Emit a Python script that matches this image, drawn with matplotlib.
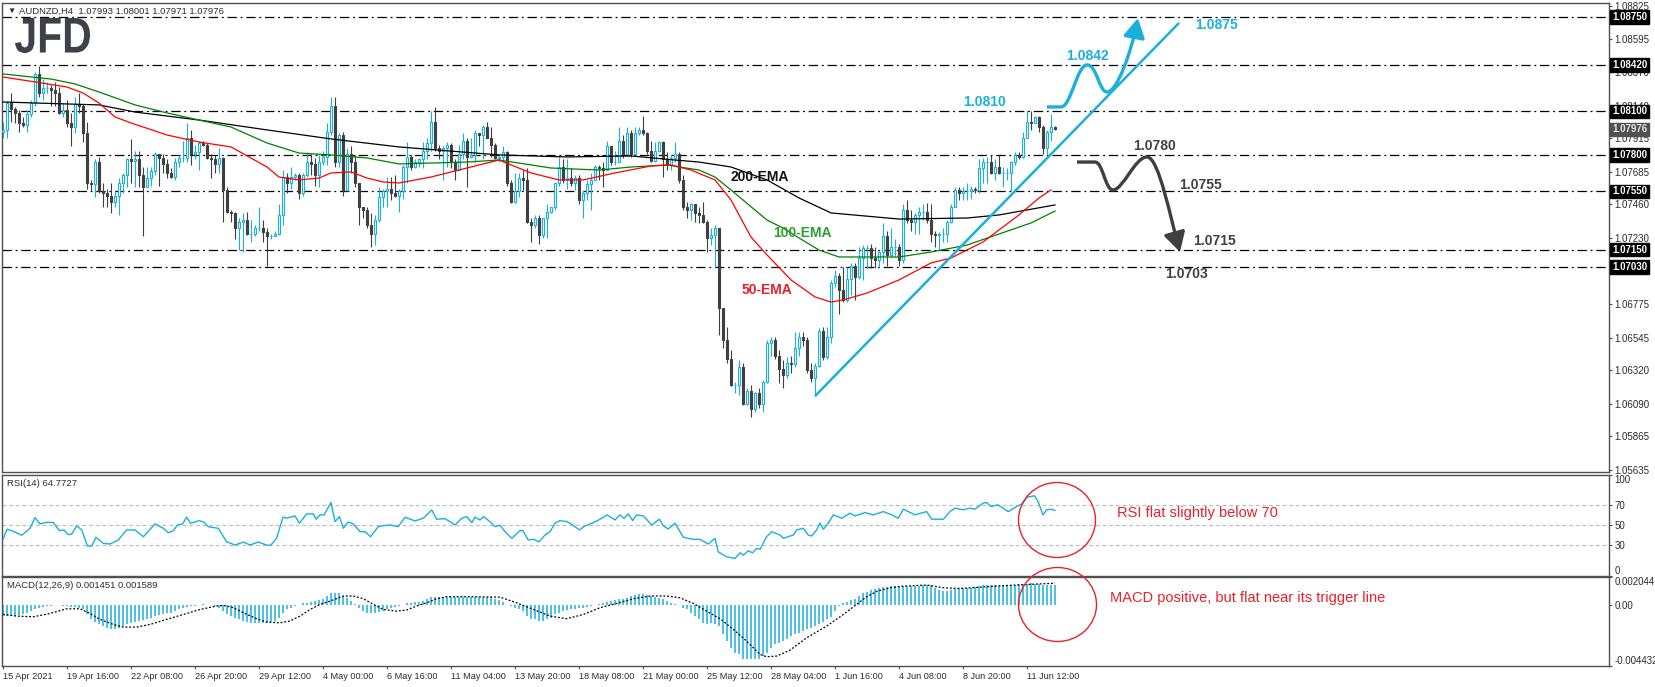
"""
AUDNZD H4 chart with EMAs, RSI and MACD panels (MT4 style).
"""
import numpy as np
import matplotlib
matplotlib.use('Agg')
import matplotlib.pyplot as plt
from matplotlib.patches import Ellipse, FancyArrowPatch, PathPatch
from matplotlib.path import Path
from matplotlib.textpath import TextPath
from matplotlib.font_manager import FontProperties
from matplotlib.transforms import Affine2D

plt.rcParams['font.family'] = ['Liberation Sans', 'DejaVu Sans']

# ---------------- data ----------------
OPEN_FIRST = 1.0796
CLOSE = [
    1.0797, 1.0816, 1.0812, 1.0809, 1.0802, 1.0801, 1.0808, 1.0816, 1.0836, 1.0823,
    1.0826, 1.0826, 1.0825, 1.0823, 1.0809, 1.0811, 1.0802, 1.0799, 1.0815, 1.0814,
    1.0795, 1.0761, 1.0760, 1.0775, 1.0755, 1.0754, 1.0752, 1.0748, 1.0752, 1.0761,
    1.0766, 1.0777, 1.0776, 1.0777, 1.0766, 1.0758, 1.0764, 1.0769, 1.0781, 1.0778,
    1.0774, 1.0768, 1.0765, 1.0775, 1.0778, 1.0778, 1.0792, 1.0781, 1.0782, 1.0788,
    1.0787, 1.0778, 1.0777, 1.0774, 1.0778, 1.0756, 1.0741, 1.0740, 1.0730, 1.0734,
    1.0735, 1.0726, 1.0726, 1.0730, 1.0730, 1.0727, 1.0724, 1.0724, 1.0726, 1.0739,
    1.0765, 1.0761, 1.0765, 1.0766, 1.0754, 1.0766, 1.0775, 1.0774, 1.0766, 1.0775,
    1.0779, 1.0796, 1.0814, 1.0775, 1.0794, 1.0756, 1.0781, 1.0775, 1.0761, 1.0744,
    1.0742, 1.0732, 1.0726, 1.0735, 1.0751, 1.0755, 1.0757, 1.0754, 1.0752, 1.0755,
    1.0772, 1.0779, 1.0772, 1.0775, 1.0777, 1.0783, 1.0788, 1.0803, 1.0785, 1.0783,
    1.0785, 1.0787, 1.0775, 1.0770, 1.0781, 1.0790, 1.0779, 1.0780, 1.0795, 1.0794,
    1.0799, 1.0792, 1.0787, 1.0778, 1.0779, 1.0782, 1.0761, 1.0748, 1.0755, 1.0764,
    1.0763, 1.0734, 1.0732, 1.0737, 1.0725, 1.0737, 1.0741, 1.0744, 1.0761, 1.0772,
    1.0763, 1.0764, 1.0761, 1.0764, 1.0749, 1.0754, 1.0760, 1.0763, 1.0772, 1.0771,
    1.0770, 1.0786, 1.0775, 1.0775, 1.0790, 1.0781, 1.0795, 1.0781, 1.0795, 1.0797,
    1.0795, 1.0783, 1.0776, 1.0783, 1.0789, 1.0777, 1.0773, 1.0778, 1.0781, 1.0763,
    1.0744, 1.0742, 1.0746, 1.0740, 1.0739, 1.0734, 1.0723, 1.0725, 1.0730, 1.0675,
    1.0653, 1.0640, 1.0622, 1.0622, 1.0634, 1.0609, 1.0618, 1.0605, 1.0616, 1.0609,
    1.0624, 1.0651, 1.0653, 1.0642, 1.0633, 1.0629, 1.0637, 1.0636, 1.0647, 1.0655,
    1.0653, 1.0632, 1.0627, 1.0635, 1.0659, 1.0641, 1.0655, 1.0692, 1.0697, 1.0687,
    1.0680, 1.0695, 1.0704, 1.0696, 1.0709, 1.0716, 1.0716, 1.0709, 1.0708, 1.0713,
    1.0724, 1.0711, 1.0717, 1.0717, 1.0708, 1.0742, 1.0735, 1.0734, 1.0739, 1.0741,
    1.0741, 1.0735, 1.0726, 1.0725, 1.0726, 1.0726, 1.0734, 1.0744, 1.0756, 1.0754,
    1.0755, 1.0755, 1.0757, 1.0756, 1.0771, 1.0775, 1.0775, 1.0768, 1.0772, 1.0768,
    1.0768, 1.0768, 1.0775, 1.0780, 1.0779, 1.0792, 1.0803, 1.0802, 1.0806, 1.0799,
    1.0785, 1.0796, 1.0799, 1.07976]
HIGH = [
    1.0803, 1.0817, 1.0823, 1.0813, 1.0811, 1.0806, 1.0811, 1.0818, 1.0837, 1.0841,
    1.0832, 1.0830, 1.0828, 1.0830, 1.0827, 1.0816, 1.0818, 1.0809, 1.0820, 1.0823,
    1.0815, 1.0803, 1.0763, 1.0777, 1.0779, 1.0761, 1.0757, 1.0761, 1.0755, 1.0764,
    1.0768, 1.0778, 1.0791, 1.0783, 1.0783, 1.0772, 1.0772, 1.0772, 1.0782, 1.0781,
    1.0781, 1.0777, 1.0771, 1.0778, 1.0780, 1.0790, 1.0802, 1.0797, 1.0787, 1.0790,
    1.0790, 1.0788, 1.0781, 1.0780, 1.0785, 1.0779, 1.0758, 1.0742, 1.0741, 1.0737,
    1.0740, 1.0741, 1.0735, 1.0732, 1.0744, 1.0735, 1.0730, 1.0726, 1.0728, 1.0746,
    1.0770, 1.0768, 1.0772, 1.0768, 1.0768, 1.0768, 1.0782, 1.0781, 1.0778, 1.0780,
    1.0783, 1.0802, 1.0820, 1.0820, 1.0795, 1.0796, 1.0785, 1.0786, 1.0780, 1.0761,
    1.0744, 1.0744, 1.0740, 1.0739, 1.0758, 1.0757, 1.0765, 1.0765, 1.0766, 1.0757,
    1.0773, 1.0789, 1.0780, 1.0777, 1.0778, 1.0789, 1.0792, 1.0810, 1.0813, 1.0787,
    1.0786, 1.0789, 1.0788, 1.0777, 1.0787, 1.0795, 1.0792, 1.0792, 1.0797, 1.0795,
    1.0801, 1.0803, 1.0799, 1.0788, 1.0780, 1.0786, 1.0783, 1.0763, 1.0768, 1.0768,
    1.0770, 1.0771, 1.0737, 1.0739, 1.0739, 1.0737, 1.0746, 1.0744, 1.0761, 1.0779,
    1.0777, 1.0777, 1.0771, 1.0766, 1.0766, 1.0756, 1.0763, 1.0768, 1.0773, 1.0773,
    1.0775, 1.0790, 1.0786, 1.0783, 1.0799, 1.0794, 1.0799, 1.0797, 1.0799, 1.0799,
    1.0807, 1.0796, 1.0790, 1.0789, 1.0790, 1.0790, 1.0782, 1.0781, 1.0789, 1.0782,
    1.0766, 1.0748, 1.0747, 1.0746, 1.0744, 1.0748, 1.0735, 1.0730, 1.0732, 1.0730,
    1.0675, 1.0662, 1.0646, 1.0624, 1.0639, 1.0637, 1.0620, 1.0622, 1.0617, 1.0620,
    1.0625, 1.0653, 1.0655, 1.0655, 1.0646, 1.0639, 1.0641, 1.0642, 1.0658, 1.0658,
    1.0658, 1.0655, 1.0637, 1.0637, 1.0661, 1.0662, 1.0662, 1.0694, 1.0701, 1.0699,
    1.0703, 1.0703, 1.0706, 1.0706, 1.0717, 1.0718, 1.0718, 1.0719, 1.0717, 1.0715,
    1.0733, 1.0728, 1.0730, 1.0722, 1.0719, 1.0746, 1.0749, 1.0742, 1.0740, 1.0744,
    1.0746, 1.0747, 1.0746, 1.0728, 1.0727, 1.0730, 1.0735, 1.0746, 1.0758, 1.0758,
    1.0758, 1.0761, 1.0759, 1.0758, 1.0777, 1.0778, 1.0779, 1.0780, 1.0777, 1.0780,
    1.0772, 1.0771, 1.0776, 1.0782, 1.0782, 1.0796, 1.0811, 1.0810, 1.0807, 1.0807,
    1.0801, 1.0797, 1.0808, 1.08001]
LOW = [
    1.0792, 1.0792, 1.0803, 1.0802, 1.0796, 1.0799, 1.0796, 1.0806, 1.0814, 1.0820,
    1.0818, 1.0823, 1.0814, 1.0814, 1.0808, 1.0806, 1.0799, 1.0786, 1.0795, 1.0809,
    1.0789, 1.0757, 1.0755, 1.0751, 1.0754, 1.0744, 1.0744, 1.0740, 1.0744, 1.0739,
    1.0754, 1.0758, 1.0761, 1.0758, 1.0758, 1.0724, 1.0758, 1.0759, 1.0766, 1.0759,
    1.0768, 1.0764, 1.0764, 1.0763, 1.0772, 1.0775, 1.0775, 1.0773, 1.0777, 1.0770,
    1.0786, 1.0777, 1.0764, 1.0768, 1.0768, 1.0734, 1.0740, 1.0734, 1.0722, 1.0715,
    1.0713, 1.0725, 1.0720, 1.0724, 1.0728, 1.0720, 1.0704, 1.0722, 1.0724, 1.0725,
    1.0732, 1.0754, 1.0757, 1.0763, 1.0750, 1.0752, 1.0765, 1.0766, 1.0759, 1.0758,
    1.0773, 1.0773, 1.0794, 1.0772, 1.0772, 1.0752, 1.0755, 1.0768, 1.0758, 1.0732,
    1.0737, 1.0730, 1.0717, 1.0718, 1.0734, 1.0744, 1.0744, 1.0749, 1.0751, 1.0741,
    1.0750, 1.0761, 1.0770, 1.0771, 1.0772, 1.0771, 1.0777, 1.0783, 1.0783, 1.0777,
    1.0763, 1.0772, 1.0771, 1.0763, 1.0770, 1.0777, 1.0758, 1.0778, 1.0775, 1.0786,
    1.0777, 1.0792, 1.0779, 1.0777, 1.0775, 1.0775, 1.0759, 1.0747, 1.0747, 1.0751,
    1.0756, 1.0733, 1.0720, 1.0730, 1.0719, 1.0723, 1.0723, 1.0740, 1.0742, 1.0759,
    1.0761, 1.0757, 1.0759, 1.0756, 1.0746, 1.0737, 1.0749, 1.0742, 1.0763, 1.0763,
    1.0758, 1.0770, 1.0773, 1.0773, 1.0775, 1.0778, 1.0780, 1.0779, 1.0780, 1.0794,
    1.0794, 1.0781, 1.0775, 1.0775, 1.0782, 1.0765, 1.0770, 1.0770, 1.0775, 1.0761,
    1.0742, 1.0737, 1.0735, 1.0734, 1.0733, 1.0733, 1.0713, 1.0718, 1.0703, 1.0656,
    1.0647, 1.0637, 1.0621, 1.0616, 1.0615, 1.0608, 1.0608, 1.0600, 1.0603, 1.0606,
    1.0603, 1.0623, 1.0642, 1.0640, 1.0623, 1.0620, 1.0627, 1.0630, 1.0634, 1.0642,
    1.0649, 1.0630, 1.0624, 1.0614, 1.0634, 1.0639, 1.0640, 1.0651, 1.0689, 1.0671,
    1.0679, 1.0679, 1.0684, 1.0680, 1.0695, 1.0694, 1.0702, 1.0702, 1.0702, 1.0703,
    1.0706, 1.0704, 1.0709, 1.0710, 1.0704, 1.0706, 1.0733, 1.0728, 1.0726, 1.0726,
    1.0735, 1.0733, 1.0720, 1.0717, 1.0715, 1.0720, 1.0720, 1.0733, 1.0744, 1.0749,
    1.0749, 1.0749, 1.0750, 1.0754, 1.0754, 1.0761, 1.0761, 1.0767, 1.0763, 1.0767,
    1.0758, 1.0763, 1.0755, 1.0773, 1.0777, 1.0778, 1.0792, 1.0797, 1.0802, 1.0796,
    1.0781, 1.0781, 1.0790, 1.07971]

EMA200_IDX = [0, 24, 33, 49, 66, 82, 99, 124, 141, 157, 168, 174, 182, 191, 199, 207, 224, 241, 249, 263]
EMA200_VAL = [1.08165, 1.08145, 1.08096, 1.08041, 1.07973, 1.07911, 1.07856, 1.07801, 1.07787, 1.07794,
              1.07766, 1.07752, 1.07718, 1.07629, 1.07505, 1.07402, 1.07360, 1.07367, 1.07388, 1.07457]
EMA100_IDX = [0, 12, 18, 24, 33, 41, 49, 57, 66, 74, 82, 91, 99, 116, 124, 137, 149, 157, 166, 174,
              178, 182, 191, 195, 199, 204, 209, 224, 232, 241, 249, 257, 263]
EMA100_VAL = [1.08358, 1.08323, 1.08289, 1.08234, 1.08145, 1.08090, 1.08041, 1.07993, 1.07883, 1.07814,
              1.07801, 1.07780, 1.07739, 1.07752, 1.07766, 1.07711, 1.07697, 1.07718, 1.07732, 1.07697,
              1.07649, 1.07560, 1.07353, 1.07298, 1.07230, 1.07147, 1.07099, 1.07099, 1.07133, 1.07181,
              1.07257, 1.07333, 1.07415]
EMA50_IDX = [0, 8, 16, 20, 24, 28, 32, 41, 49, 57, 66, 69, 74, 79, 82, 87, 91, 95, 99, 107,
             116, 124, 132, 139, 145, 153, 162, 167, 172, 178, 182, 187, 191, 197, 203, 207, 210, 216,
             224, 232, 237, 245, 249, 254, 259, 262]
EMA50_VAL = [1.08337, 1.08303, 1.08268, 1.08227, 1.08158, 1.08062, 1.08021, 1.07938, 1.07890, 1.07856,
             1.07718, 1.07649, 1.07629, 1.07642, 1.07677, 1.07684, 1.07642, 1.07615, 1.07608, 1.07649,
             1.07711, 1.07766, 1.07677, 1.07629, 1.07629, 1.07677, 1.07725, 1.07732, 1.07697, 1.07629,
             1.07491, 1.07236, 1.07113, 1.06941, 1.06824, 1.06789, 1.06803, 1.06851, 1.06941, 1.07058,
             1.07092, 1.07202, 1.07285, 1.07388, 1.07505, 1.07560]

RSI_IDX = [0, 1, 2.6, 4.7, 6.75, 8, 9.25, 10.9, 12.6, 14.1, 15.25, 16.3, 17.2, 18.4, 19.7, 21.1, 22.2,
           23.25, 25.1, 26.75, 28.8, 30.9, 33, 35.1, 38, 40.1, 41.3, 42.6, 43.6, 44.9, 45.9, 46.9, 49.1,
           50.25, 51.3, 53.8, 55.9, 58, 60.1, 61.75, 63.8, 65.9, 66.9, 68.4, 70, 70.9, 73, 74.1, 75.9,
           77.6, 78.25, 79.25, 80.25, 82, 83, 84.1, 85.1, 86.3, 87.6, 89.25, 90.5, 91.9, 93.8, 95.1,
           96.75, 98.8, 100.5, 103, 105.1, 107.2, 108.4, 110.5, 113, 114.7, 115.9, 117.2, 118, 119.25,
           120.1, 121.75, 123, 124.25, 125.5, 127.2, 129.25, 130, 131.3, 132.6, 134, 135.5, 136.75,
           138, 139.25, 141, 142.4, 144.1, 145.5, 147.6, 149.25, 151, 153, 154.25, 155.25, 156.3,
           157.4, 158.4, 160.1, 162.2, 164.1, 165.1, 166.3, 168, 170.1, 172.6, 174.25, 176.3, 178,
           178.8, 180.9, 183, 184.25, 185.1, 186.3, 187.4, 188.4, 189.25, 190.9, 192.2, 194.25, 195.1,
           197.6, 198.4, 200.1, 201.3, 202.2, 203.4, 204.25, 205.1, 206.3, 207.6, 209.7, 211.75, 213,
           215.5, 217.6, 220.1, 222.2, 223.8, 225.1, 228, 230.9, 232.2, 235.1, 236.75, 238, 240,
           241.75, 243, 245, 245.9, 247, 248.75, 251.3, 253.4, 255, 256, 257.9, 258.75, 260, 260.9,
           262.1, 263]
RSI_VAL = [36, 46, 44, 40, 47, 57.6, 51.3, 53, 52.6, 44.6, 45.3, 40.6, 41.3, 49.3, 45.3, 29.3, 29.3,
           38, 32, 31.3, 35.3, 45.3, 45.3, 38.6, 51.3, 47, 42.6, 44.6, 50.3, 51.3, 58, 52, 54.6,
           53, 48.6, 47, 33.6, 30.3, 33.3, 30.3, 33.3, 30.3, 30, 37, 58, 57, 59.3, 52, 61.3,
           61.3, 56, 60.3, 60.3, 72.6, 53.6, 58.6, 47, 53.3, 51.3, 43.6, 43.6, 38.6, 48.6, 49.6,
           50.3, 48.6, 58, 54.3, 57, 65.3, 56, 56.6, 50.3, 57, 58.6, 52.6, 58, 55.3,
           58.6, 53.6, 48.6, 50, 43.6, 37, 44.6, 44.6, 35.3, 36, 33.6, 40.3, 43.6,
           52, 54.6, 53.6, 50.3, 45.3, 49.3, 52.6, 56, 60.3, 55.3, 60.3, 57, 61.3,
           54.6, 60.3, 59.3, 50.3, 56, 49.3, 46.3, 52, 38, 36, 36, 31.3, 37,
           23.6, 18.6, 17, 22.6, 20.3, 24.6, 22.6, 27, 26, 38.6, 43.6, 40.3, 37,
           40.3, 45.3, 47, 40.3, 39.3, 45.3, 52, 46, 52, 60.3, 57, 62, 59.3,
           62.6, 60.3, 63.6, 60.3, 57, 66, 60.3, 63.6, 56, 56, 63.6, 67, 65.3,
           67, 66, 72, 72.6, 68.6, 70.3, 63.6, 68.6, 72, 78, 79.3, 73.6, 60.3, 65.3,
           66, 64.77]

MACD_HIST = [
    -0.00080, -0.00080, -0.00080, -0.00080, -0.00075, -0.00068, -0.00056, -0.00044, -0.00032, -0.00019,
    -0.00012, -0.00007, -0.00007, -0.00002, -0.00002, -0.00007, -0.00007, -0.00012, -0.00017, -0.00019,
    -0.00032, -0.00068, -0.00099, -0.00124, -0.00141, -0.00153, -0.00165, -0.00172, -0.00177, -0.00165,
    -0.00153, -0.00141, -0.00129, -0.00124, -0.00116, -0.00109, -0.00099, -0.00092, -0.00080, -0.00075,
    -0.00068, -0.00061, -0.00056, -0.00044, -0.00032, -0.00024, -0.00012, -0.00007, -0.00007, -0.00002,
    0.00005, 0.00000, -0.00002, -0.00007, -0.00019, -0.00044, -0.00068, -0.00080, -0.00092, -0.00104,
    -0.00116, -0.00124, -0.00129, -0.00129, -0.00129, -0.00129, -0.00129, -0.00124, -0.00116, -0.00092,
    -0.00056, -0.00032, -0.00019, -0.00007, -0.00002, 0.00012, 0.00017, 0.00022, 0.00029, 0.00036,
    0.00046, 0.00066, 0.00090, 0.00090, 0.00085, 0.00066, 0.00053, 0.00029, 0.00005, -0.00019,
    -0.00044, -0.00056, -0.00061, -0.00056, -0.00051, -0.00044, -0.00032, -0.00024, -0.00017, -0.00007,
    0.00002, 0.00012, 0.00017, 0.00022, 0.00022, 0.00029, 0.00046, 0.00061, 0.00061, 0.00061,
    0.00061, 0.00061, 0.00058, 0.00056, 0.00056, 0.00058, 0.00058, 0.00061, 0.00061, 0.00061,
    0.00061, 0.00058, 0.00056, 0.00046, 0.00036, 0.00022, -0.00002, -0.00007, -0.00019, -0.00032,
    -0.00044, -0.00080, -0.00099, -0.00104, -0.00116, -0.00116, -0.00104, -0.00092, -0.00068, -0.00056,
    -0.00044, -0.00036, -0.00032, -0.00027, -0.00019, -0.00019, -0.00012, -0.00007, -0.00002, 0.00005,
    0.00017, 0.00022, 0.00029, 0.00036, 0.00041, 0.00046, 0.00053, 0.00066, 0.00070, 0.00078,
    0.00078, 0.00070, 0.00066, 0.00061, 0.00053, 0.00041, 0.00029, 0.00017, 0.00005, -0.00002,
    -0.00019, -0.00032, -0.00056, -0.00080, -0.00104, -0.00129, -0.00141, -0.00129, -0.00141, -0.00153,
    -0.00213, -0.00262, -0.00311, -0.00347, -0.00359, -0.00391, -0.00395, -0.00395, -0.00391, -0.00391,
    -0.00371, -0.00347, -0.00311, -0.00286, -0.00274, -0.00262, -0.00250, -0.00226, -0.00213, -0.00201,
    -0.00189, -0.00177, -0.00165, -0.00153, -0.00141, -0.00124, -0.00104, -0.00085, -0.00044, -0.00007,
    0.00012, 0.00022, 0.00036, 0.00046, 0.00066, 0.00085, 0.00095, 0.00107, 0.00119, 0.00126,
    0.00131, 0.00133, 0.00138, 0.00138, 0.00138, 0.00138, 0.00138, 0.00138, 0.00138, 0.00138,
    0.00143, 0.00143, 0.00143, 0.00126, 0.00107, 0.00102, 0.00102, 0.00109, 0.00119, 0.00121,
    0.00121, 0.00124, 0.00126, 0.00131, 0.00138, 0.00143, 0.00143, 0.00143, 0.00143, 0.00138,
    0.00143, 0.00143, 0.00143, 0.00143, 0.00150, 0.00150, 0.00155, 0.00158, 0.00155, 0.00150,
    0.00145, 0.00145, 0.00145, 0.001451]
SIGNAL_IDX = [0, 3.4, 7.6, 11.75, 15.9, 19.25, 21.75, 24.25, 27.6, 30.1, 33.4, 36.75, 40.9, 45.1, 49.25,
              53.4, 55.1, 57.6, 60.1, 63.4, 65.9, 69.25, 71.75, 74.25, 76.75, 79.25, 81.75, 85.1, 87.6,
              90.1, 92.6, 95.1, 98.4, 100.9, 103.4, 105.9, 108.4, 110.9, 115.9, 124.25, 128.4, 132.6,
              136.75, 141, 145.1, 149.25, 153.4, 157.6, 161.75, 165.9, 169.25, 172.6, 175.9, 179.25,
              182.6, 185.9, 189.25, 190.9, 193.4, 196.75, 200.9, 205.9, 210.1, 213.4, 215.9, 218.6,
              221.75, 225.1, 230.9, 235.1, 239.25, 244.25, 249.25, 253.4, 257.6, 263]
SIGNAL_VAL = [-0.00068, -0.00080, -0.00085, -0.00061, -0.00027, -0.00027, -0.00061, -0.00104, -0.00141,
              -0.00160, -0.00160, -0.00141, -0.00104, -0.00068, -0.00032, -0.00007, -0.00002, -0.00019,
              -0.00056, -0.00099, -0.00124, -0.00129, -0.00116, -0.00080, -0.00032, 0.00005, 0.00029,
              0.00066, 0.00066, 0.00046, 0.00005, -0.00032, -0.00044, -0.00036, -0.00007, 0.00017,
              0.00046, 0.00061, 0.00061, 0.00058, 0.00017, -0.00032, -0.00080, -0.00099, -0.00068,
              -0.00019, 0.00012, 0.00046, 0.00066, 0.00066, 0.00053, 0.00012, -0.00044, -0.00099,
              -0.00177, -0.00262, -0.00359, -0.00376, -0.00371, -0.00328, -0.00238, -0.00153, -0.00068,
              0.00005, 0.00061, 0.00102, 0.00126, 0.00138, 0.00146, 0.00126, 0.00121, 0.00130, 0.00140,
              0.00146, 0.00152, 0.001589]

LEVELS = [1.0875, 1.0842, 1.0810, 1.0780, 1.0755, 1.0715, 1.0703]
LAST_PRICE = 1.07976
MAIN_TICKS = [1.08825, 1.08595, 1.08370, 1.08140, 1.07915, 1.07685, 1.07460, 1.07230,
              1.07005, 1.06775, 1.06545, 1.06320, 1.06090, 1.05865, 1.05635]
RSI_TICKS = [0, 30, 50, 70, 100]
MACD_TICKS = [-0.004432, 0.0, 0.002044]
MACD_TICK_LABELS = ['-0.004432', '0.00', '0.002044']
TICK_IDX = list(range(0, 257, 16))
TICK_LABELS = ['15 Apr 2021', '19 Apr 16:00', '22 Apr 08:00', '26 Apr 20:00', '29 Apr 12:00',
               '4 May 00:00', '6 May 16:00', '11 May 04:00', '13 May 20:00', '18 May 08:00',
               '21 May 00:00', '25 May 12:00', '28 May 04:00', '1 Jun 16:00', '4 Jun 08:00',
               '8 Jun 20:00', '11 Jun 12:00']

# ---------------- styling ----------------
W, H = 1655, 687
CYAN = '#1AB0DC'
DARK = '#404040'
RED = '#E8222B'
GREEN_TXT = '#2E9E2E'
AXIS_TXT = '#2a2a35'
SPINE = '#505050'

fig = plt.figure(figsize=(W / 100, H / 100), dpi=100)
fig.patch.set_facecolor('white')


def px_axes(left, top, right, bottom):
    return fig.add_axes([left / W, 1 - bottom / H, (right - left) / W, (bottom - top) / H])


ax = px_axes(2, 3, 1609, 472)
ax_rsi = px_axes(2, 475, 1609, 575.5)
ax_macd = px_axes(2, 577, 1609, 666)

for a in (ax, ax_rsi, ax_macd):
    a.set_xlim(-0.25, 401.5)
    for s in a.spines.values():
        s.set_color(SPINE)
        s.set_linewidth(1)
    a.yaxis.tick_right()
    a.tick_params(axis='y', direction='out', length=2.5, width=0.8, color=SPINE,
                  labelsize=7, labelcolor=AXIS_TXT, pad=1.5)
    a.tick_params(axis='x', bottom=False, labelbottom=False)

# ---------------- main price panel ----------------
ax.set_ylim(1.05620, 1.08846)
ax.set_yticks(MAIN_TICKS)
ax.set_yticklabels([f'{v:.5f}' for v in MAIN_TICKS])

for lv in LEVELS:
    ax.axhline(lv, color='black', lw=0.9, dashes=(7.5, 3, 1.5, 3), zorder=1)

x = np.arange(len(CLOSE))
c = np.array(CLOSE)
o = np.array([OPEN_FIRST] + CLOSE[:-1])
bull = c >= o
wick_colors = [CYAN if b else DARK for b in bull]
ax.vlines(x, LOW, HIGH, colors=wick_colors, lw=0.8, zorder=2)
ax.bar(x[bull], (c - o)[bull], bottom=o[bull], width=0.5, facecolor='white',
       edgecolor=CYAN, linewidth=0.8, zorder=3)
ax.bar(x[~bull], (c - o)[~bull], bottom=o[~bull], width=0.5, facecolor=DARK,
       edgecolor=DARK, linewidth=0.8, zorder=3)

ax.plot(EMA200_IDX, EMA200_VAL, color='black', lw=0.9, zorder=4)
ax.plot(EMA100_IDX, EMA100_VAL, color='#008000', lw=0.9, zorder=4)
ax.plot(EMA50_IDX, EMA50_VAL, color='#FF0000', lw=0.9, zorder=4)

# trendline
ax.plot([203, 294], [1.06142, 1.08709], color=CYAN, lw=1.8, zorder=5, solid_capstyle='butt')

# scenario arrows
C4 = Path.CURVE4
up_verts = [(261, 1.08131), (264.5, 1.08131),
            (267, 1.08131), (268.5, 1.08420), (271, 1.08420),
            (273.5, 1.08420), (274, 1.08234), (276, 1.08234),
            (278.5, 1.08234), (282, 1.08500), (283.75, 1.08743)]
dn_verts = [(268.5, 1.07752), (273, 1.07752),
            (275, 1.07752), (275.5, 1.07560), (277.5, 1.07560),
            (280, 1.07560), (283, 1.07787), (286, 1.07787),
            (289, 1.07787), (292, 1.07350), (294.25, 1.07133)]
codes = [Path.MOVETO, Path.LINETO] + [C4] * 9
for verts, col in ((up_verts, CYAN), (dn_verts, '#3F3F3F')):
    arr = FancyArrowPatch(path=Path(verts, codes), arrowstyle='-|>,head_length=0.45,head_width=0.25',
                          mutation_scale=26, lw=2.4, color=col, zorder=6, joinstyle='round',
                          capstyle='butt')
    ax.add_patch(arr)

lbl_kw = dict(ha='center', va='center', fontsize=10, fontweight='bold', zorder=7)
ax.text(303.25, 1.08695, '1.0875', color=CYAN, **lbl_kw)
ax.text(271, 1.08482, '1.0842', color=CYAN, **lbl_kw)
ax.text(245.25, 1.08165, '1.0810', color=CYAN, **lbl_kw)
ax.text(287.75, 1.07862, '1.0780', color=DARK, **lbl_kw)
ax.text(299.25, 1.07594, '1.0755', color=DARK, **lbl_kw)
ax.text(303, 1.07209, '1.0715', color=DARK, **lbl_kw)
ax.text(296, 1.06982, '1.0703', color=DARK, **lbl_kw)
ax.text(189.25, 1.07649, '200-EMA', color='#111111', **lbl_kw)
ax.text(199.75, 1.07264, '100-EMA', color=GREEN_TXT, **lbl_kw)
ax.text(191, 1.06872, '50-EMA', color='#E8202A', **lbl_kw)


def price_box(val, fc, tc='white'):
    ax.annotate(f'{val:.5f}', xy=(1, val), xycoords=('axes fraction', 'data'),
                xytext=(2.2, 0), textcoords='offset points', ha='left', va='center',
                fontsize=7, color=tc, fontweight='bold', annotation_clip=False, zorder=10,
                bbox=dict(boxstyle='square,pad=0.18', fc=fc, ec=fc))


for lv in LEVELS:
    price_box(lv, 'black')
price_box(LAST_PRICE, '#505050', '#e8e8e8')

# ---------------- RSI panel ----------------
ax_rsi.set_ylim(0, 100)
ax_rsi.set_yticks(RSI_TICKS)
lbls = ax_rsi.set_yticklabels([str(t) for t in RSI_TICKS])
for lv in (30, 50, 70):
    ax_rsi.axhline(lv, color='#BDBDBD', lw=0.8, dashes=(3.5, 2.5), zorder=1)
ax_rsi.plot(RSI_IDX, RSI_VAL, color=CYAN, lw=1, zorder=3)
rl = ax_rsi.get_yticklabels()
rl[0].set_va('bottom')
rl[-1].set_va('top')

# ---------------- MACD panel ----------------
ax_macd.set_ylim(-0.004432, 0.002044)
ax_macd.set_yticks(MACD_TICKS)
ax_macd.set_yticklabels(MACD_TICK_LABELS)
ml = ax_macd.get_yticklabels()
ml[0].set_va('bottom')
ml[-1].set_va('top')
ax_macd.vlines(x, 0, MACD_HIST, colors=CYAN, lw=1.1, zorder=2)
ax_macd.plot(SIGNAL_IDX, SIGNAL_VAL, color='black', lw=0.9, dashes=(1.5, 1.5), zorder=3)

ax_macd.set_xticks(TICK_IDX)
ax_macd.set_xticklabels(TICK_LABELS, ha='left', fontsize=6.6, color=AXIS_TXT)
ax_macd.tick_params(axis='x', bottom=True, labelbottom=True, direction='out', length=2.5,
                    width=0.8, color=SPINE, pad=1.5)

# ---------------- figure-level annotations ----------------
fig.text(7 / W, 1 - 11 / H, '\u25BC', fontsize=6, color=AXIS_TXT, va='center', ha='left')
fig.text(19 / W, 1 - 11 / H, 'AUDNZD,H4  1.07993 1.08001 1.07971 1.07976', fontsize=6.8,
         color=AXIS_TXT, va='center', ha='left')
fig.text(7 / W, 1 - 484 / H, 'RSI(14) 64.7727', fontsize=6.8, color=AXIS_TXT, va='center')
fig.text(7 / W, 1 - 586 / H, 'MACD(12,26,9) 0.001451 0.001589', fontsize=6.8, color=AXIS_TXT,
         va='center')

# JFD logo
tp = TextPath((0, 0), 'JFD', size=10, prop=FontProperties(family='Liberation Sans', weight='bold'))
ext = tp.get_extents()
tr = Affine2D().translate(-ext.x0, -ext.y0).scale(75 / ext.width, 35 / ext.height).translate(15, H - 53)
fig.add_artist(PathPatch(tp, transform=tr, facecolor='#3D4249', edgecolor='none'))

for cx, cy, w, h in ((1057, 520, 77, 75), (1057.5, 604.5, 78, 74)):
    fig.add_artist(Ellipse((cx / W, 1 - cy / H), w / W, h / H, transform=fig.transFigure,
                           fill=False, ec=RED, lw=1))
fig.text(1117 / W, 1 - 513 / H, 'RSI flat slightly below 70', color=RED, fontsize=10.5,
         va='center', ha='left')
fig.text(1110 / W, 1 - 598 / H, 'MACD positive, but flat near its trigger line', color=RED,
         fontsize=10.5, va='center', ha='left')

fig.savefig('out.png', dpi=100, facecolor='white')
